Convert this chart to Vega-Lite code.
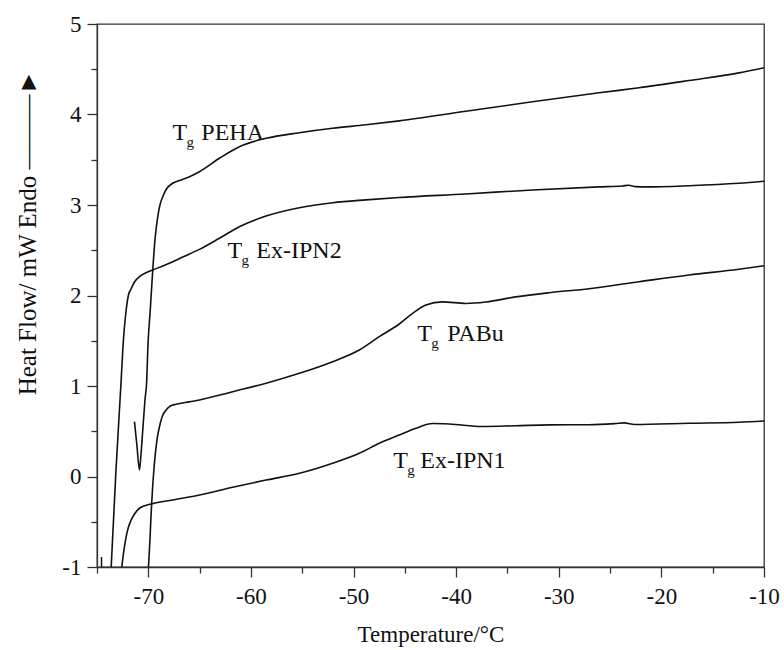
{
  "$schema": "https://vega.github.io/schema/vega-lite/v6.json",
  "width": 667,
  "height": 543,
  "autosize": "none",
  "padding": {"left": 97, "top": 24, "right": 20, "bottom": 83},
  "background": "white",
  "config": {
    "view": {"stroke": "#333333", "strokeWidth": 1.3},
    "font": "Liberation Serif",
    "axis": {
      "grid": false,
      "domainColor": "#333333",
      "domainWidth": 1.3,
      "tickColor": "#333333",
      "tickWidth": 1.3,
      "labelFont": "Liberation Serif",
      "labelFontSize": 23,
      "labelColor": "#111111",
      "titleFont": "Liberation Serif",
      "titleFontSize": 23,
      "titleFontWeight": "normal",
      "titleColor": "#111111"
    }
  },
  "datasets": {
    "curves": [
      {"series": "PEHA", "T": -71.35, "HF": 0.606},
      {"series": "PEHA", "T": -71.105, "HF": 0.337},
      {"series": "PEHA", "T": -70.862, "HF": 0.072},
      {"series": "PEHA", "T": -70.716, "HF": 0.238},
      {"series": "PEHA", "T": -70.54, "HF": 0.514},
      {"series": "PEHA", "T": -70.326, "HF": 0.845},
      {"series": "PEHA", "T": -70.151, "HF": 1.066},
      {"series": "PEHA", "T": -70.054, "HF": 1.398},
      {"series": "PEHA", "T": -69.81, "HF": 1.84},
      {"series": "PEHA", "T": -69.567, "HF": 2.282},
      {"series": "PEHA", "T": -69.353, "HF": 2.613},
      {"series": "PEHA", "T": -69.08, "HF": 2.871},
      {"series": "PEHA", "T": -68.866, "HF": 3.0},
      {"series": "PEHA", "T": -68.593, "HF": 3.092},
      {"series": "PEHA", "T": -68.233, "HF": 3.177},
      {"series": "PEHA", "T": -67.619, "HF": 3.24},
      {"series": "PEHA", "T": -66.967, "HF": 3.271},
      {"series": "PEHA", "T": -65.993, "HF": 3.313},
      {"series": "PEHA", "T": -65.02, "HF": 3.368},
      {"series": "PEHA", "T": -63.072, "HF": 3.516},
      {"series": "PEHA", "T": -61.125, "HF": 3.644},
      {"series": "PEHA", "T": -58.525, "HF": 3.737},
      {"series": "PEHA", "T": -55.282, "HF": 3.799},
      {"series": "PEHA", "T": -52.04, "HF": 3.848},
      {"series": "PEHA", "T": -48.788, "HF": 3.886},
      {"series": "PEHA", "T": -45.545, "HF": 3.93},
      {"series": "PEHA", "T": -39.05, "HF": 4.035},
      {"series": "PEHA", "T": -32.565, "HF": 4.14},
      {"series": "PEHA", "T": -26.07, "HF": 4.24},
      {"series": "PEHA", "T": -22.176, "HF": 4.295},
      {"series": "PEHA", "T": -17.308, "HF": 4.375},
      {"series": "PEHA", "T": -12.439, "HF": 4.46},
      {"series": "PEHA", "T": -10.0, "HF": 4.517},

      {"series": "Ex-IPN2", "T": -73.617, "HF": -1.0},
      {"series": "Ex-IPN2", "T": -73.15, "HF": 0.072},
      {"series": "Ex-IPN2", "T": -72.644, "HF": 1.066},
      {"series": "Ex-IPN2", "T": -72.488, "HF": 1.398},
      {"series": "Ex-IPN2", "T": -72.157, "HF": 1.84},
      {"series": "Ex-IPN2", "T": -71.933, "HF": 2.006},
      {"series": "Ex-IPN2", "T": -71.67, "HF": 2.075},
      {"series": "Ex-IPN2", "T": -71.349, "HF": 2.149},
      {"series": "Ex-IPN2", "T": -70.862, "HF": 2.208},
      {"series": "Ex-IPN2", "T": -70.18, "HF": 2.254},
      {"series": "Ex-IPN2", "T": -69.567, "HF": 2.282},
      {"series": "Ex-IPN2", "T": -67.619, "HF": 2.373},
      {"series": "Ex-IPN2", "T": -65.993, "HF": 2.459},
      {"series": "Ex-IPN2", "T": -65.02, "HF": 2.51},
      {"series": "Ex-IPN2", "T": -63.072, "HF": 2.632},
      {"series": "Ex-IPN2", "T": -61.125, "HF": 2.76},
      {"series": "Ex-IPN2", "T": -58.525, "HF": 2.878},
      {"series": "Ex-IPN2", "T": -55.282, "HF": 2.97},
      {"series": "Ex-IPN2", "T": -52.04, "HF": 3.025},
      {"series": "Ex-IPN2", "T": -48.788, "HF": 3.057},
      {"series": "Ex-IPN2", "T": -45.545, "HF": 3.083},
      {"series": "Ex-IPN2", "T": -39.05, "HF": 3.122},
      {"series": "Ex-IPN2", "T": -32.565, "HF": 3.166},
      {"series": "Ex-IPN2", "T": -26.07, "HF": 3.2},
      {"series": "Ex-IPN2", "T": -23.802, "HF": 3.21},
      {"series": "Ex-IPN2", "T": -23.2, "HF": 3.218},
      {"series": "Ex-IPN2", "T": -22.5, "HF": 3.203},
      {"series": "Ex-IPN2", "T": -21.5, "HF": 3.2},
      {"series": "Ex-IPN2", "T": -17.308, "HF": 3.213},
      {"series": "Ex-IPN2", "T": -12.439, "HF": 3.24},
      {"series": "Ex-IPN2", "T": -10.0, "HF": 3.262},

      {"series": "PABu", "T": -69.985, "HF": -1.0},
      {"series": "PABu", "T": -69.84, "HF": -0.702},
      {"series": "PABu", "T": -69.722, "HF": -0.403},
      {"series": "PABu", "T": -69.596, "HF": -0.149},
      {"series": "PABu", "T": -69.401, "HF": 0.149},
      {"series": "PABu", "T": -69.158, "HF": 0.403},
      {"series": "PABu", "T": -68.914, "HF": 0.55},
      {"series": "PABu", "T": -68.622, "HF": 0.669},
      {"series": "PABu", "T": -68.262, "HF": 0.735},
      {"series": "PABu", "T": -67.843, "HF": 0.779},
      {"series": "PABu", "T": -67.288, "HF": 0.798},
      {"series": "PABu", "T": -65.993, "HF": 0.825},
      {"series": "PABu", "T": -65.02, "HF": 0.845},
      {"series": "PABu", "T": -61.777, "HF": 0.937},
      {"series": "PABu", "T": -58.525, "HF": 1.03},
      {"series": "PABu", "T": -55.282, "HF": 1.14},
      {"series": "PABu", "T": -52.04, "HF": 1.269},
      {"series": "PABu", "T": -49.44, "HF": 1.398},
      {"series": "PABu", "T": -47.493, "HF": 1.545},
      {"series": "PABu", "T": -45.545, "HF": 1.685},
      {"series": "PABu", "T": -44.25, "HF": 1.803},
      {"series": "PABu", "T": -42.946, "HF": 1.895},
      {"series": "PABu", "T": -41.33, "HF": 1.93},
      {"series": "PABu", "T": -39.05, "HF": 1.912},
      {"series": "PABu", "T": -37.103, "HF": 1.928},
      {"series": "PABu", "T": -34.182, "HF": 1.985},
      {"series": "PABu", "T": -30.94, "HF": 2.031},
      {"series": "PABu", "T": -27.045, "HF": 2.075},
      {"series": "PABu", "T": -22.176, "HF": 2.152},
      {"series": "PABu", "T": -17.308, "HF": 2.227},
      {"series": "PABu", "T": -12.439, "HF": 2.29},
      {"series": "PABu", "T": -10.0, "HF": 2.329},

      {"series": "Ex-IPN1", "T": -72.585, "HF": -1.0},
      {"series": "Ex-IPN1", "T": -72.371, "HF": -0.812},
      {"series": "Ex-IPN1", "T": -72.157, "HF": -0.665},
      {"series": "Ex-IPN1", "T": -71.933, "HF": -0.558},
      {"series": "Ex-IPN1", "T": -71.67, "HF": -0.481},
      {"series": "Ex-IPN1", "T": -71.349, "HF": -0.414},
      {"series": "Ex-IPN1", "T": -70.862, "HF": -0.351},
      {"series": "Ex-IPN1", "T": -69.722, "HF": -0.304},
      {"series": "Ex-IPN1", "T": -67.454, "HF": -0.256},
      {"series": "Ex-IPN1", "T": -65.02, "HF": -0.204},
      {"series": "Ex-IPN1", "T": -61.777, "HF": -0.119},
      {"series": "Ex-IPN1", "T": -58.525, "HF": -0.039},
      {"series": "Ex-IPN1", "T": -55.282, "HF": 0.035},
      {"series": "Ex-IPN1", "T": -52.04, "HF": 0.146},
      {"series": "Ex-IPN1", "T": -49.44, "HF": 0.256},
      {"series": "Ex-IPN1", "T": -47.493, "HF": 0.367},
      {"series": "Ex-IPN1", "T": -45.545, "HF": 0.459},
      {"series": "Ex-IPN1", "T": -43.919, "HF": 0.533},
      {"series": "Ex-IPN1", "T": -42.303, "HF": 0.585},
      {"series": "Ex-IPN1", "T": -40.68, "HF": 0.58},
      {"series": "Ex-IPN1", "T": -37.434, "HF": 0.553},
      {"series": "Ex-IPN1", "T": -34.182, "HF": 0.561},
      {"series": "Ex-IPN1", "T": -30.94, "HF": 0.57},
      {"series": "Ex-IPN1", "T": -27.045, "HF": 0.572},
      {"series": "Ex-IPN1", "T": -24.5, "HF": 0.585},
      {"series": "Ex-IPN1", "T": -23.6, "HF": 0.592},
      {"series": "Ex-IPN1", "T": -22.6, "HF": 0.575},
      {"series": "Ex-IPN1", "T": -17.308, "HF": 0.588},
      {"series": "Ex-IPN1", "T": -12.439, "HF": 0.599},
      {"series": "Ex-IPN1", "T": -10.0, "HF": 0.613}
    ],
    "fragment": [
      {"series": "fragment", "T": -74.56, "HF": -0.89},
      {"series": "fragment", "T": -74.56, "HF": -1.0}
    ],
    "labels": [
      {"part": "T", "x": -67.65, "y": 3.718, "text": "T"},
      {"part": "g", "x": -66.29, "y": 3.641, "text": "g"},
      {"part": "name", "x": -64.83, "y": 3.718, "text": "PEHA"},
      {"part": "T", "x": -62.29, "y": 2.414, "text": "T"},
      {"part": "g", "x": -60.93, "y": 2.337, "text": "g"},
      {"part": "name", "x": -59.47, "y": 2.414, "text": "Ex-IPN2"},
      {"part": "T", "x": -43.79, "y": 1.497, "text": "T"},
      {"part": "g", "x": -42.43, "y": 1.42, "text": "g"},
      {"part": "name", "x": -40.87, "y": 1.497, "text": "PABu"},
      {"part": "T", "x": -46.13, "y": 0.094, "text": "T"},
      {"part": "g", "x": -44.77, "y": 0.017, "text": "g"},
      {"part": "name", "x": -43.5, "y": 0.094, "text": "Ex-IPN1"}
    ]
  },
  "layer": [
    {
      "data": {"name": "curves"},
      "mark": {"type": "line", "color": "#111111", "strokeWidth": 1.6, "clip": true, "interpolate": "monotone"},
      "encoding": {
        "x": {
          "field": "T",
          "type": "quantitative",
          "scale": {"domain": [-75, -10], "nice": false, "zero": false},
          "axis": {
            "title": "Temperature/°C",
            "values": [-75, -70, -65, -60, -55, -50, -45, -40, -35, -30, -25, -20, -15, -10],
            "labelExpr": "datum.value % 10 === 0 ? '' + datum.value : ''",
            "tickSize": {"condition": {"test": "datum.value % 10 !== 0", "value": 6}, "value": 10},
            "labelPadding": 8,
            "labelFlush": false,
            "labelOverlap": false,
            "titleBaseline": "alphabetic",
            "titleY": 74
          }
        },
        "y": {
          "field": "HF",
          "type": "quantitative",
          "scale": {"domain": [-1, 5], "nice": false, "zero": false},
          "axis": {
            "title": "Heat Flow/ mW  Endo  ———►",
            "titleFontSize": 25,
            "values": [-1, -0.5, 0, 0.5, 1, 1.5, 2, 2.5, 3, 3.5, 4, 4.5, 5],
            "labelExpr": "datum.value % 1 === 0 ? '' + datum.value : ''",
            "tickSize": {"condition": {"test": "datum.value % 1 !== 0", "value": 6}, "value": 10},
            "labelPadding": 6,
            "labelFlush": false,
            "labelOverlap": false,
            "titleX": -70,
            "titleY": 208,
            "titleBaseline": "middle",
            "titleAlign": "center"
          }
        },
        "detail": {"field": "series"}
      }
    },
    {
      "data": {"name": "fragment"},
      "mark": {"type": "line", "color": "#111111", "strokeWidth": 1.5},
      "encoding": {
        "x": {"field": "T", "type": "quantitative"},
        "y": {"field": "HF", "type": "quantitative"}
      }
    },
    {
      "data": {"name": "labels"},
      "transform": [{"filter": "datum.part === 'T' || datum.part === 'name'"}],
      "mark": {"type": "text", "align": "left", "baseline": "alphabetic", "fontSize": 24, "font": "Liberation Serif", "color": "#111111"},
      "encoding": {
        "x": {"field": "x", "type": "quantitative"},
        "y": {"field": "y", "type": "quantitative"},
        "text": {"field": "text"}
      }
    },
    {
      "data": {"name": "labels"},
      "transform": [{"filter": "datum.part === 'g'"}],
      "mark": {"type": "text", "align": "left", "baseline": "alphabetic", "fontSize": 15, "font": "Liberation Serif", "color": "#111111"},
      "encoding": {
        "x": {"field": "x", "type": "quantitative"},
        "y": {"field": "y", "type": "quantitative"},
        "text": {"field": "text"}
      }
    }
  ]
}
